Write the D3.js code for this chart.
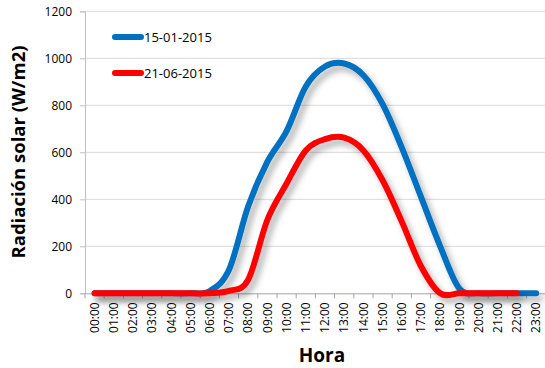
<!DOCTYPE html>
<html>
<head>
<meta http-equiv="Content-Type" content="text/html; charset=UTF-8">
<style>
body { margin: 0; background: #fff; }
text { font-family: "Open Sans", "Noto Sans", sans-serif; fill: #000; }
</style>
</head>
<body>

<div class="container"></div>

<script src="https://cdn.jsdelivr.net/npm/d3@7"></script>
<script>

var width = 545;
var height = 368;

// hours of the day on the category axis
var hours = ["00:00", "01:00", "02:00", "03:00", "04:00", "05:00", "06:00", "07:00",
             "08:00", "09:00", "10:00", "11:00", "12:00", "13:00", "14:00", "15:00",
             "16:00", "17:00", "18:00", "19:00", "20:00", "21:00", "22:00", "23:00"];

// radiation values (W/m2)
var janValues = [0, 0, 0, 0, 0, 0, 10, 100, 370, 560, 690, 880, 965, 978, 928, 805,
                 620, 410, 200, 20, 0, 0, 0, 0];
var junValues = [0, 0, 0, 0, 0, 0, 0, 10, 58, 313, 467, 608, 656, 662, 608, 481,
                 305, 115, 0, 0, 0, 0, 0];   // series stops at 22:00

var yTicks = [0, 200, 400, 600, 800, 1000, 1200];

var seriesNames = ["15-01-2015", "21-06-2015"];
var seriesColors = ["#0070c0", "#ff0000"];

var margin = { left: 85, top: 11.3, bottom: 293.3, right: 545.8 };

var svg = d3.select(".container")
            .append("svg")
                .attr("width", width)
                .attr("height", height);

// soft grey shadow under the lines, like the spreadsheet one
var defs = svg.append("defs");
defs.append("filter")
        .attr("id", "shadow")
        .attr("x", "-10%").attr("y", "-10%")
        .attr("width", "130%").attr("height", "130%")
    .append("feDropShadow")
        .attr("dx", 4)
        .attr("dy", 5)
        .attr("stdDeviation", 3)
        .attr("flood-color", "#000")
        .attr("flood-opacity", 0.3);

var x = d3.scaleBand()
          .domain(hours)
          .range([margin.left, margin.right])
          .padding(0);

var y = d3.scaleLinear()
          .domain([0, 1200])
          .range([margin.bottom, margin.top]);

var bw = x.bandwidth();

// horizontal gridlines
svg.append("g")
   .selectAll("line")
   .data(yTicks.filter(function(d) { return d > 0; }))
   .enter().append("line")
       .attr("x1", margin.left)
       .attr("x2", margin.right)
       .attr("y1", function(d) { return y(d); })
       .attr("y2", function(d) { return y(d); })
       .style("stroke", "#d9d9d9")
       .style("stroke-width", 1);

// y axis
var yAxis = svg.append("g")
               .attr("transform", "translate(" + margin.left + ",0)")
               .call(d3.axisLeft(y).tickValues(yTicks).tickFormat(d3.format("d"))
                       .tickSize(5).tickPadding(8));
yAxis.select(".domain").style("stroke", "#bfbfbf");
yAxis.selectAll(".tick line").style("stroke", "#bfbfbf");
yAxis.selectAll(".tick text")
     .style("font-size", "12px")
     .style("font-family", "'Open Sans', sans-serif")
     .style("fill", "#000");

// x axis: labels in the middle of each band, ticks on the band edges
var xAxis = svg.append("g")
               .attr("transform", "translate(0," + margin.bottom + ")")
               .call(d3.axisBottom(x).tickSize(0).tickPadding(0));
xAxis.select(".domain").style("stroke", "#a6a6a6");
xAxis.selectAll(".tick text")
     .attr("transform", "rotate(-90)")
     .attr("x", -9)
     .attr("y", 0)
     .attr("dy", "0.35em")
     .style("text-anchor", "end")
     .style("font-size", "12px")
     .style("font-family", "'Open Sans', sans-serif")
     .style("fill", "#000");

svg.append("g")
   .selectAll("line")
   .data(hours)
   .enter().append("line")
       .attr("x1", function(d) { return x(d); })
       .attr("x2", function(d) { return x(d); })
       .attr("y1", margin.bottom)
       .attr("y2", margin.bottom + 5)
       .style("stroke", "#a6a6a6");

// the two smoothed lines (uniform Catmull-Rom, close to the spreadsheet smoothing)
var line = d3.line()
             .x(function(d, i) { return x(hours[i]) + bw / 2; })
             .y(function(d) { return y(d); })
             .curve(d3.curveCardinal.tension(0));

[janValues, junValues].forEach(function(vals, i) {
    svg.append("path")
       .datum(vals)
       .attr("d", line)
       .attr("filter", "url(#shadow)")
       .style("fill", "none")
       .style("stroke", seriesColors[i])
       .style("stroke-width", 6)
       .style("stroke-linejoin", "round")
       .style("stroke-linecap", "round");
});

// legend
var legendY = [37, 73];
seriesNames.forEach(function(name, i) {
    svg.append("line")
       .attr("x1", 115).attr("x2", 141)
       .attr("y1", legendY[i]).attr("y2", legendY[i])
       .style("stroke", seriesColors[i])
       .style("stroke-width", 6)
       .style("stroke-linecap", "round");
    svg.append("text")
       .attr("x", 144)
       .attr("y", legendY[i] + 4.5)
       .style("font-size", "13px")
       .text(name);
});

// axis titles
svg.append("text")
   .attr("x", 322)
   .attr("y", 362)
   .attr("text-anchor", "middle")
   .style("font-size", "19px")
   .style("font-weight", "bold")
   .text("Hora");

svg.append("text")
   .attr("transform", "translate(25,152) rotate(-90)")
   .attr("text-anchor", "middle")
   .style("font-size", "18.5px")
   .style("font-weight", "bold")
   .text("Radiación solar (W/m2)");

</script>
</body>
</html>
